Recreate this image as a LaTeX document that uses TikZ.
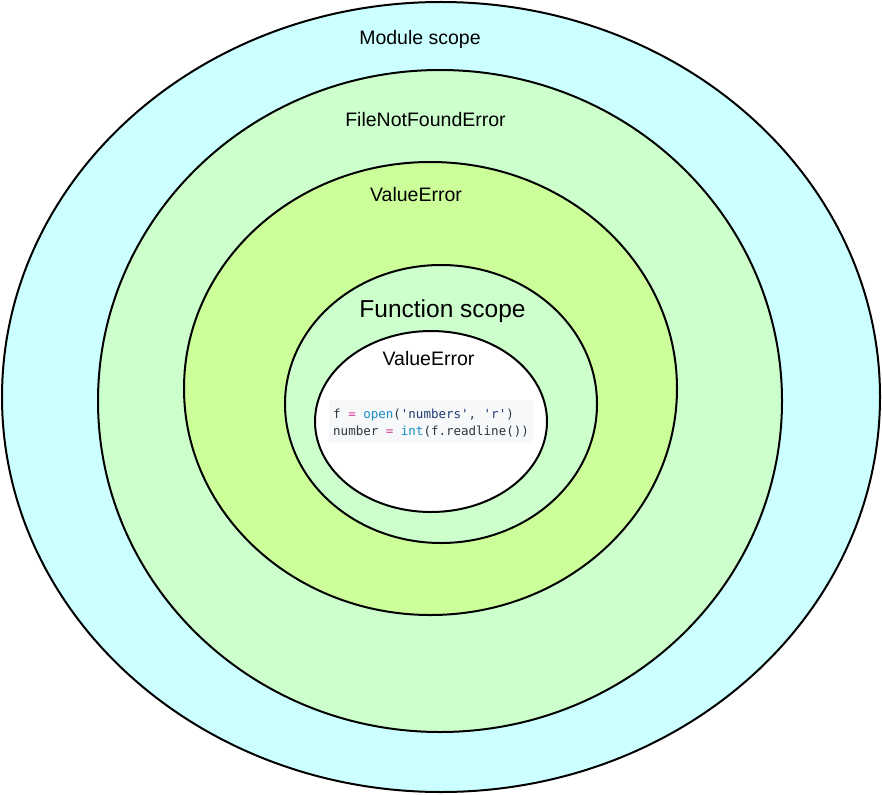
\documentclass[tikz,border=0pt]{standalone}
\usepackage{fontspec}
\setmainfont{Liberation Sans}
\newfontfamily\codefont{DejaVu Sans Mono}
\usetikzlibrary{shapes.geometric}
\definecolor{cmod}{HTML}{CCFFFF}
\definecolor{cfile}{HTML}{CCFFCC}
\definecolor{cval}{HTML}{CCFF99}
\definecolor{cfun}{HTML}{CCFFCC}
\definecolor{codebg}{HTML}{F6F8FA}
\definecolor{codetxt}{HTML}{2F353B}
\definecolor{codeop}{HTML}{D9418F}
\definecolor{codefn}{HTML}{1A8CC4}
\definecolor{codestr}{HTML}{213A6E}
\tikzset{
  scopering/.style={ellipse, draw=black, line width=2pt, inner sep=0pt},
  lbl/.style={anchor=base, inner sep=0pt, font=\fontsize{19.5}{23}\selectfont},
  biglbl/.style={anchor=base, inner sep=0pt, font=\fontsize{24.5}{29}\selectfont},
  codeline/.style={anchor=base west, inner sep=0pt, text=codetxt, font=\codefont\fontsize{12.5}{15}\selectfont}
}
\begin{document}
\begin{tikzpicture}[x=1pt,y=-1pt]
\useasboundingbox (0,0) rectangle (882,794);
\node[scopering, fill=cmod, minimum width=878pt, minimum height=790pt] (module) at (441,397) {};
\node[scopering, fill=cfile, minimum width=684pt, minimum height=662pt] (fnf) at (440,401) {};
\node[scopering, fill=cval, minimum width=493pt, minimum height=453pt] (val) at (430.5,388.5) {};
\node[scopering, fill=cfun, minimum width=312pt, minimum height=278pt] (fun) at (441,404) {};
\node[scopering, fill=white, minimum width=232pt, minimum height=181pt] (inner) at (431,421.5) {};
\node[lbl] (lmod) at (420,45) {Module scope};
\node[lbl] (lfnf) at (425.5,127) {FileNotFoundError};
\node[lbl] (lval) at (416,202) {ValueError};
\node[biglbl] (lfun) at (442.5,317) {Function scope};
\node[lbl] (linner) at (428.5,365) {ValueError};
\fill[codebg] (329,400) rectangle (533,443);
\node[codeline] (c1) at (333,418) {f \textcolor{codeop}{=} \textcolor{codefn}{open}(\textcolor{codestr}{'numbers'}, \textcolor{codestr}{'r'})};
\node[codeline] (c2) at (333,435) {number \textcolor{codeop}{=} \textcolor{codefn}{int}(f.readline())};
\end{tikzpicture}
\end{document}
